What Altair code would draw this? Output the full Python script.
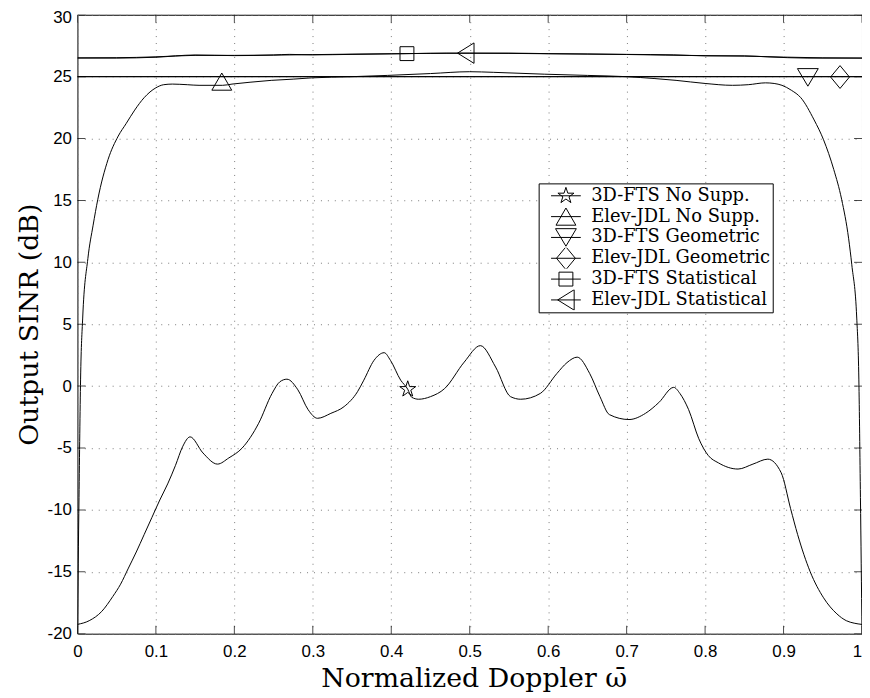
import math
import altair as alt
import pandas as pd

# ---------------- data ----------------
series_names = [
    "3D-FTS No Supp.",
    "Elev-JDL No Supp.",
    "3D-FTS Geometric",
    "Elev-JDL Geometric",
    "3D-FTS Statistical",
    "Elev-JDL Statistical",
]

fts_nosupp_x = [0.0, 0.015, 0.031, 0.045, 0.055, 0.065, 0.075, 0.085, 0.095, 0.105, 0.115, 0.125,
                0.134, 0.1436, 0.16, 0.1785, 0.193, 0.21, 0.231, 0.248, 0.258, 0.267, 0.281,
                0.294, 0.306, 0.323, 0.34, 0.357, 0.365, 0.378, 0.391, 0.399, 0.412, 0.421,
                0.426, 0.435, 0.45, 0.468, 0.493, 0.5136, 0.533, 0.552, 0.565, 0.59, 0.611,
                0.624, 0.637, 0.653, 0.666, 0.678, 0.703, 0.724, 0.741, 0.760, 0.768, 0.779,
                0.792, 0.804, 0.817, 0.842, 0.861, 0.880, 0.897, 0.909, 0.918, 0.934, 0.951,
                0.968, 0.98, 0.99, 1.0]
fts_nosupp_y = [-19.25, -18.95, -18.2, -17.0, -16.0, -14.7, -13.4, -12.0, -10.6, -9.2, -7.9, -6.4,
                -4.9, -4.1, -5.4, -6.3, -5.8, -5.0, -3.0, -0.6, 0.35, 0.56, -0.3,
                -1.9, -2.6, -2.2, -1.65, -0.45, 0.48, 2.08, 2.7, 2.08, 0.48, -0.25,
                -0.9, -1.06, -0.85, -0.2, 1.94, 3.27, 1.54, -0.85, -1.06, -0.59, 1.01,
                1.9, 2.34, 1.01, -0.85, -2.3, -2.7, -2.2, -1.33, -0.1, -0.6, -1.9,
                -4.25, -5.6, -6.2, -6.7, -6.3, -5.9, -7.0, -9.9, -12.0, -15.0, -17.1,
                -18.4, -18.95, -19.15, -19.25]

jdl_nosupp_x = [0.0, 0.002, 0.004, 0.0067, 0.0133, 0.02, 0.026, 0.039, 0.052, 0.062, 0.073, 0.085,
                0.1, 0.11, 0.121, 0.14, 0.155, 0.185, 0.197, 0.22, 0.247, 0.275, 0.298, 0.35,
                0.395, 0.45, 0.5, 0.53, 0.595, 0.65, 0.7, 0.735, 0.763, 0.8, 0.835, 0.855,
                0.877, 0.888, 0.898, 0.91, 0.922, 0.939, 0.951, 0.964, 0.974, 0.983, 0.987,
                0.9933, 0.996, 0.998, 1.0]
jdl_nosupp_y = [-20.0, -9.0, 0.5, 5.5, 10.3, 13.0, 15.1, 18.3, 20.2, 21.2, 22.3, 23.3,
                24.1, 24.35, 24.4, 24.35, 24.3, 24.3, 24.4, 24.55, 24.7, 24.8, 24.9, 25.0,
                25.1, 25.25, 25.4, 25.35, 25.2, 25.1, 25.0, 24.85, 24.7, 24.45, 24.3, 24.35,
                24.5, 24.45, 24.3, 23.9, 23.3, 21.5, 19.9, 17.5, 15.1, 11.9, 9.8,
                5.5, 0.5, -9.0, -20.0]

fts_geo_x = [0.0, 0.25, 0.5, 0.75, 1.0]
fts_geo_y = [25.0, 25.0, 25.0, 25.0, 25.0]
jdl_geo_x = [0.0, 0.25, 0.5, 0.75, 1.0]
jdl_geo_y = [25.0, 25.0, 25.0, 25.0, 25.0]

fts_stat_x = [0.0, 0.05, 0.1, 0.15, 0.2, 0.25, 0.27, 0.3, 0.35, 0.42, 0.47, 0.55, 0.6, 0.7,
              0.76, 0.8, 0.85, 0.88, 0.93, 1.0]
fts_stat_y = [26.5, 26.5, 26.57, 26.75, 26.7, 26.75, 26.8, 26.76, 26.8, 26.86, 26.9, 26.88,
              26.85, 26.8, 26.76, 26.68, 26.68, 26.6, 26.5, 26.5]
jdl_stat_x = [0.0, 0.05, 0.1, 0.15, 0.2, 0.25, 0.3, 0.35, 0.4, 0.45, 0.5, 0.55, 0.6, 0.65,
              0.7, 0.75, 0.8, 0.85, 0.9, 0.95, 1.0]
jdl_stat_y = [26.52, 26.53, 26.6, 26.72, 26.72, 26.74, 26.78, 26.82, 26.85, 26.88, 26.9, 26.9,
              26.86, 26.83, 26.79, 26.74, 26.7, 26.66, 26.58, 26.52, 26.5]

marker_x = [0.421, 0.184, 0.931, 0.972, 0.42, 0.495]
marker_y = [-0.25, 24.6, 24.94, 24.97, 26.86, 26.9]

x_ticks = [0, 0.1, 0.2, 0.3, 0.4, 0.5, 0.6, 0.7, 0.8, 0.9, 1]
y_ticks = [-20, -15, -10, -5, 0, 5, 10, 15, 20, 25, 30]

# ---------------- tables ----------------
all_x = [fts_nosupp_x, jdl_nosupp_x, fts_geo_x, jdl_geo_x, fts_stat_x, jdl_stat_x]
all_y = [fts_nosupp_y, jdl_nosupp_y, fts_geo_y, jdl_geo_y, fts_stat_y, jdl_stat_y]
rows = []
for name, xs, ys in zip(series_names, all_x, all_y):
    for xv, yv in zip(xs, ys):
        rows.append({"series": name, "x": xv, "y": yv})
lines_df = pd.DataFrame(rows)
markers_df = pd.DataFrame({"series": series_names, "x": marker_x, "y": marker_y})
xt_df = pd.DataFrame({"v": x_ticks})
yt_df = pd.DataFrame({"v": y_ticks})

# ---------------- marker shapes (unit = 10 px at size 400) ----------------
def star_path(R=0.85):
    r = R * 0.382
    pts = []
    for k in range(10):
        ang = math.radians(36 * k)
        rad = R if k % 2 == 0 else r
        pts.append((rad * math.sin(ang), -rad * math.cos(ang)))
    return "M" + "L".join(f"{px:.3f},{py:.3f}" for px, py in pts) + "Z"

marker_paths = [
    star_path(),
    "M0,-0.866L1,0.866L-1,0.866Z",
    "M-1.05,-0.885L1.05,-0.885L0,0.885Z",
    "M0,-1.15L0.95,0L0,1.15L-0.95,0Z",
    "M-0.7,-0.7L0.7,-0.7L0.7,0.7L-0.7,0.7Z",
    "M-0.83,0L0.83,-1.03L0.83,1.03Z",
]
legend_paths = ["M-1.5,0L1.5,0" + p for p in marker_paths]

# ---------------- chart ----------------
W, H = 791, 624
x_scale = alt.Scale(domain=[0, 1], nice=False, zero=False)
y_scale = alt.Scale(domain=[-20, 30], nice=False, zero=False)

serif = "DejaVu Serif"
sans = "Liberation Sans"
grid_color = "#7a7a7a"

x_axis = alt.Axis(values=x_ticks, labelExpr="datum.value + ''", title="Normalized Doppler ω̄",
                  grid=True, gridColor=grid_color, gridDash=[1, 6], gridWidth=1,
                  domain=False, ticks=False, labelPadding=10, labelFlush=False,
                  labelOverlap=False, labelFont=sans, labelFontSize=17,
                  labelOffset={"condition": {"test": "datum.value == 1", "value": -5}, "value": 0},
                  labelColor="black", titleFont=serif, titleFontSize=27,
                  titleFontWeight="normal", titleColor="black",
                  titleX=W / 2 + 4, titleY=53, titleBaseline="alphabetic", titleAlign="center")
y_axis = alt.Axis(values=y_ticks, labelExpr="datum.value + ''", title="Output SINR (dB)",
                  grid=True, gridColor=grid_color, gridDash=[1, 6], gridWidth=1,
                  domain=False, ticks=False, labelPadding=6, labelFlush=False,
                  labelOverlap=False, labelFont=sans, labelFontSize=17,
                  labelOffset={"condition": {"test": "datum.value == 30", "value": 3}, "value": 0},
                  labelColor="black", titleFont=serif, titleFontSize=27,
                  titleFontWeight="normal", titleColor="black",
                  titleX=-48, titleY=H / 2, titleBaseline="middle", titleAlign="center",
                  titleAngle=270)

X = alt.X("x:Q", scale=x_scale, axis=x_axis)
Y = alt.Y("y:Q", scale=y_scale, axis=y_axis)

lines = alt.Chart(lines_df).mark_line(color="black", strokeWidth=1, interpolate="monotone",
                                      clip=True).encode(x=X, y=Y, detail="series:N")

markers = alt.Chart(markers_df).mark_point(filled=False, color="black", strokeWidth=1,
                                           size=400, opacity=1).encode(
    x=X, y=Y,
    shape=alt.Shape("series:N", scale=alt.Scale(domain=series_names, range=marker_paths),
                    legend=None),
)

legend_layer = alt.Chart(markers_df).transform_filter("datum.x > 5").mark_point(
    filled=False, color="black", strokeWidth=1, opacity=1).encode(
    x=X, y=Y,
    shape=alt.Shape("series:N", scale=alt.Scale(domain=series_names, range=legend_paths),
                    legend=alt.Legend(title=None, orient="none", legendX=465, legendY=170,
                                      symbolSize=400, symbolStrokeWidth=1,
                                      symbolStrokeColor="black", symbolFillColor="transparent",
                                      labelFont=serif, labelFontSize=18,
                                      labelColor="black", labelLimit=500,
                                      strokeColor="black", fillColor="white",
                                      padding=2, rowPadding=0, clipHeight=21,
                                      symbolOffset=15, labelOffset=15)),
)

xticks_bottom = alt.Chart(xt_df).mark_tick(orient="vertical", size=16, thickness=1,
                                           color="black", clip=True).encode(
    x=alt.X("v:Q", scale=x_scale, axis=x_axis), y=alt.value(H))
xticks_top = alt.Chart(xt_df).mark_tick(orient="vertical", size=16, thickness=1,
                                        color="black", clip=True).encode(
    x=alt.X("v:Q", scale=x_scale, axis=x_axis), y=alt.value(0))
yticks_left = alt.Chart(yt_df).mark_tick(orient="horizontal", size=16, thickness=1,
                                         color="black", clip=True).encode(
    y=alt.Y("v:Q", scale=y_scale, axis=y_axis), x=alt.value(0))
yticks_right = alt.Chart(yt_df).mark_tick(orient="horizontal", size=16, thickness=1,
                                          color="black", clip=True).encode(
    y=alt.Y("v:Q", scale=y_scale, axis=y_axis), x=alt.value(W))

chart = alt.layer(
    lines, xticks_bottom, xticks_top, yticks_left, yticks_right, markers, legend_layer
).resolve_scale(shape="independent").properties(
    width=W, height=H,
    padding={"left": 70, "top": 4, "right": 0, "bottom": 60},
    autosize=alt.AutoSizeParams(type="none"),
    background="white",
).configure_view(stroke="black", strokeWidth=1)

chart.save("out.html", embed_options={"renderer": "svg", "actions": False})
